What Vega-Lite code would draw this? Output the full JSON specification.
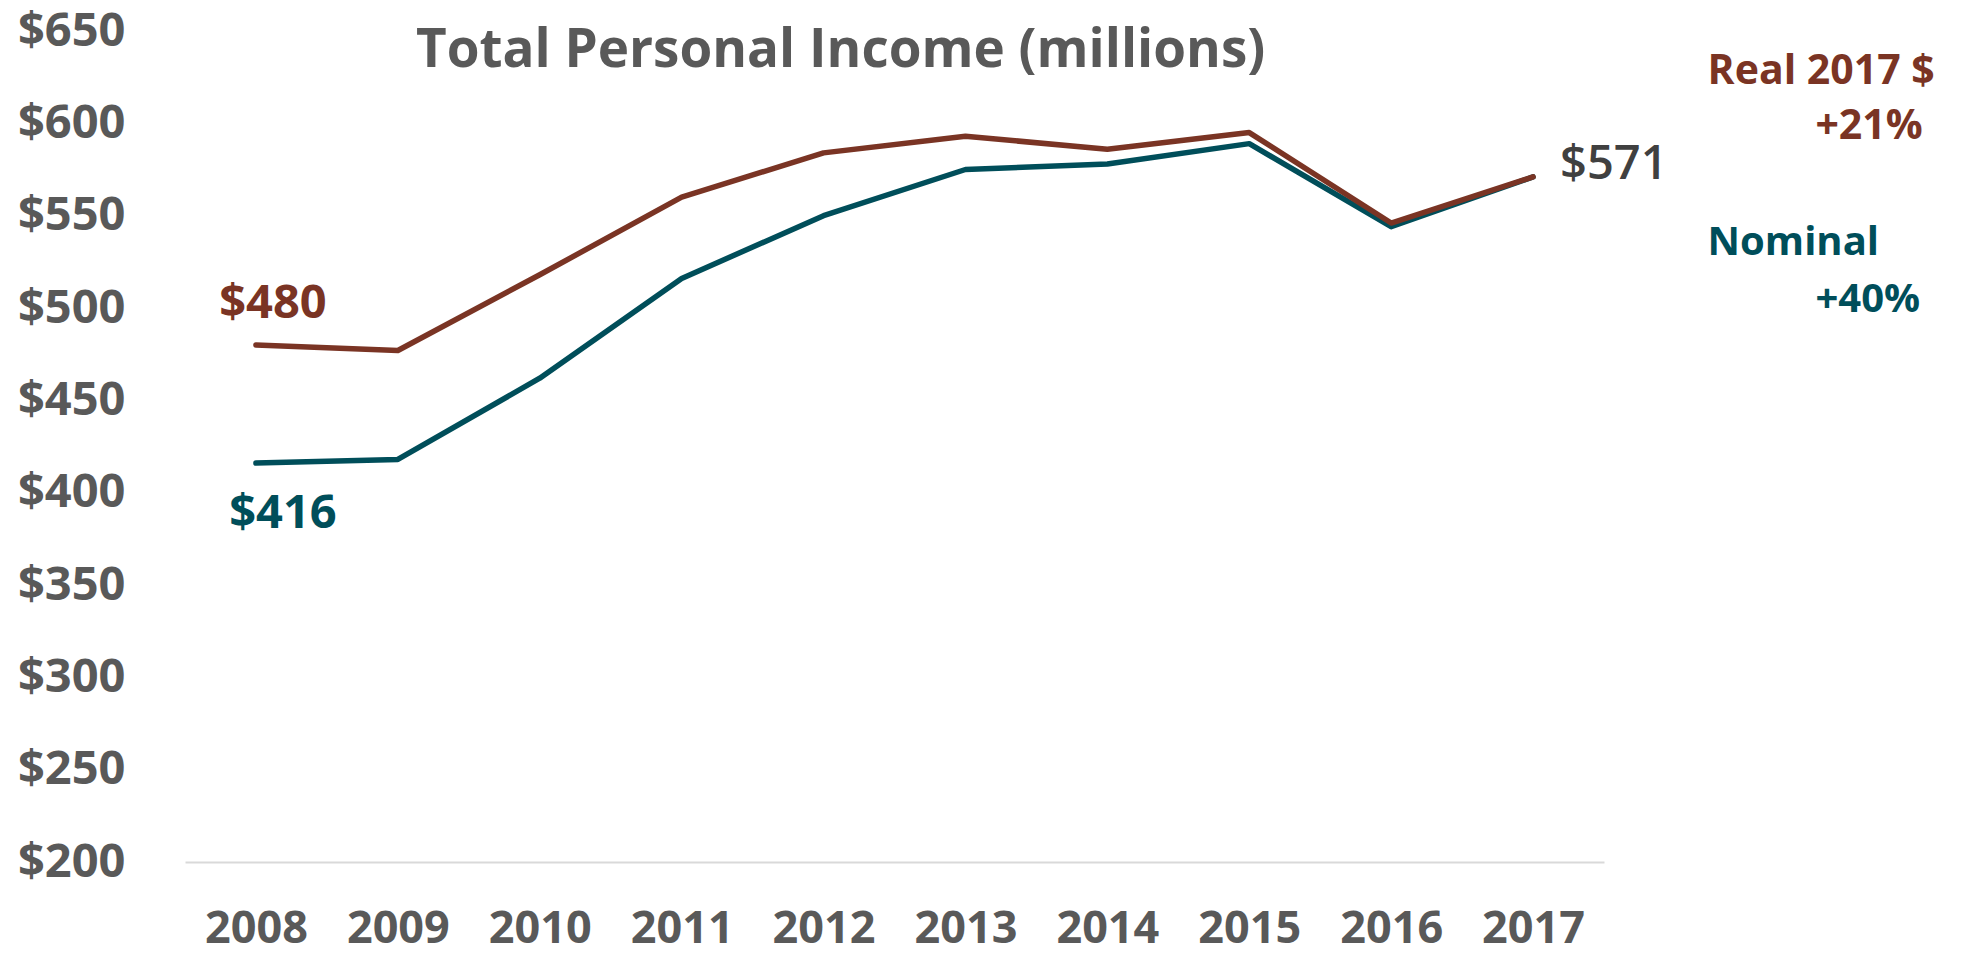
{
  "$schema": "https://vega.github.io/schema/vega-lite/v6.json",
  "width": 1419,
  "height": 831,
  "autosize": {"type": "none"},
  "padding": {"left": 185, "top": 31, "right": 361, "bottom": 92},
  "background": "white",
  "config": {"view": {"stroke": null}, "font": "Open Sans"},
  "datasets": {
    "income": [
      {"year": 2008, "series": "Nominal", "value": 416},
      {"year": 2009, "series": "Nominal", "value": 418},
      {"year": 2010, "series": "Nominal", "value": 462},
      {"year": 2011, "series": "Nominal", "value": 516},
      {"year": 2012, "series": "Nominal", "value": 550},
      {"year": 2013, "series": "Nominal", "value": 575},
      {"year": 2014, "series": "Nominal", "value": 578},
      {"year": 2015, "series": "Nominal", "value": 589},
      {"year": 2016, "series": "Nominal", "value": 544},
      {"year": 2017, "series": "Nominal", "value": 571},
      {"year": 2008, "series": "Real 2017 $", "value": 480},
      {"year": 2009, "series": "Real 2017 $", "value": 477},
      {"year": 2010, "series": "Real 2017 $", "value": 518},
      {"year": 2011, "series": "Real 2017 $", "value": 560},
      {"year": 2012, "series": "Real 2017 $", "value": 584},
      {"year": 2013, "series": "Real 2017 $", "value": 593},
      {"year": 2014, "series": "Real 2017 $", "value": 586},
      {"year": 2015, "series": "Real 2017 $", "value": 595},
      {"year": 2016, "series": "Real 2017 $", "value": 546},
      {"year": 2017, "series": "Real 2017 $", "value": 571}
    ],
    "notes": [
      {"kind": "title", "text": "Total Personal Income (millions)", "year": 2012.12, "value": 639},
      {"kind": "real", "text": "$480", "year": 2008.12, "value": 502},
      {"kind": "nominal", "text": "$416", "year": 2008.19, "value": 388.5},
      {"kind": "end", "text": "$571", "year": 2017.19, "value": 577.5},
      {"kind": "reallegend", "text": "Real 2017 $", "year": 2018.23, "value": 628},
      {"kind": "reallegend", "text": "+21%", "year": 2018.99, "value": 598},
      {"kind": "nominallegend", "text": "Nominal", "year": 2018.23, "value": 535},
      {"kind": "nominallegend", "text": "+40%", "year": 2018.99, "value": 504.5}
    ]
  },
  "encoding": {
    "x": {
      "field": "year", "type": "quantitative",
      "scale": {"domain": [2007.5, 2017.5], "nice": false, "zero": false},
      "axis": {
        "title": null, "values": [2008, 2009, 2010, 2011, 2012, 2013, 2014, 2015, 2016, 2017],
        "format": "d", "grid": false, "ticks": false,
        "domain": true, "domainColor": "#D9D9D9", "domainWidth": 2,
        "labelFont": "Open Sans", "labelFontWeight": "bold", "labelFontSize": 45,
        "labelColor": "#595959", "labelPadding": 44, "labelFlush": false
      }
    },
    "y": {
      "field": "value", "type": "quantitative",
      "scale": {"domain": [200, 650], "nice": false, "zero": false},
      "axis": {
        "title": null, "values": [200, 250, 300, 350, 400, 450, 500, 550, 600, 650],
        "labelExpr": "'$' + datum.value", "grid": false, "ticks": false, "domain": false,
        "labelFont": "Open Sans", "labelFontWeight": "bold", "labelFontSize": 47,
        "labelColor": "#595959", "labelPadding": 60
      }
    }
  },
  "layer": [
    {
      "data": {"name": "income"},
      "transform": [{"filter": "datum.series === 'Nominal'"}],
      "mark": {"type": "line", "color": "#004E5A", "strokeWidth": 5.5, "strokeCap": "round", "strokeJoin": "round"}
    },
    {
      "data": {"name": "income"},
      "transform": [{"filter": "datum.series === 'Real 2017 $'"}],
      "mark": {"type": "line", "color": "#7A3424", "strokeWidth": 5.5, "strokeCap": "round", "strokeJoin": "round"}
    },
    {
      "data": {"name": "notes"},
      "transform": [{"filter": "datum.kind === 'title'"}],
      "mark": {"type": "text", "font": "Open Sans", "fontWeight": "bold", "fontSize": 53, "color": "#595959", "align": "center", "baseline": "middle"},
      "encoding": {"text": {"field": "text"}}
    },
    {
      "data": {"name": "notes"},
      "transform": [{"filter": "datum.kind === 'real'"}],
      "mark": {"type": "text", "font": "Open Sans", "fontWeight": "bold", "fontSize": 47, "color": "#7A3424", "align": "center", "baseline": "middle"},
      "encoding": {"text": {"field": "text"}}
    },
    {
      "data": {"name": "notes"},
      "transform": [{"filter": "datum.kind === 'nominal'"}],
      "mark": {"type": "text", "font": "Open Sans", "fontWeight": "bold", "fontSize": 47, "color": "#004E5A", "align": "center", "baseline": "middle"},
      "encoding": {"text": {"field": "text"}}
    },
    {
      "data": {"name": "notes"},
      "transform": [{"filter": "datum.kind === 'end'"}],
      "mark": {"type": "text", "font": "Open Sans", "fontWeight": 600, "fontSize": 47, "color": "#404040", "align": "left", "baseline": "middle", "clip": false},
      "encoding": {"text": {"field": "text"}}
    },
    {
      "data": {"name": "notes"},
      "transform": [{"filter": "datum.kind === 'reallegend'"}],
      "mark": {"type": "text", "font": "Open Sans", "fontWeight": "bold", "fontSize": 41, "color": "#7A3424", "align": "left", "baseline": "middle", "clip": false},
      "encoding": {"text": {"field": "text"}}
    },
    {
      "data": {"name": "notes"},
      "transform": [{"filter": "datum.kind === 'nominallegend'"}],
      "mark": {"type": "text", "font": "Open Sans", "fontWeight": "bold", "fontSize": 40, "color": "#004E5A", "align": "left", "baseline": "middle", "clip": false},
      "encoding": {"text": {"field": "text"}}
    }
  ]
}
